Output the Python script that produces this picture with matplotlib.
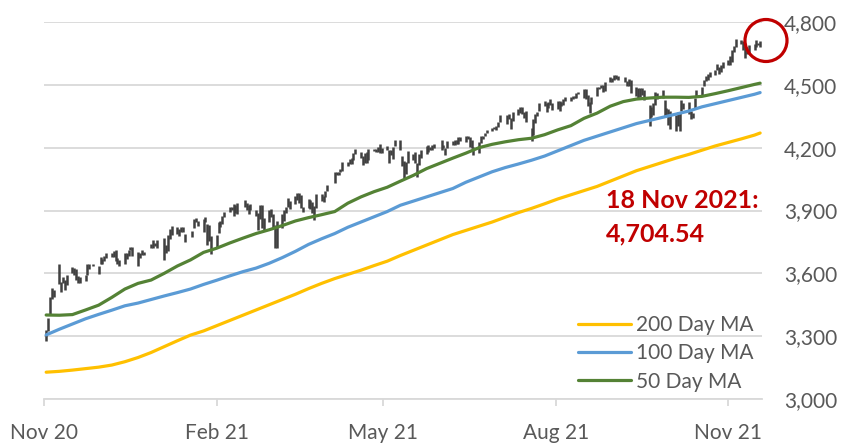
"""
S&P 500 daily range with 50/100/200 day moving averages, Nov 2020 - Nov 2021.
"""
import matplotlib
matplotlib.use("Agg")
import matplotlib.pyplot as plt
import matplotlib.dates as mdates
import matplotlib.patches as mpatches
from matplotlib.ticker import FuncFormatter, FixedLocator
import numpy as np
import pandas as pd

# daily lows / highs per month (trading days)
low_nov20 = [3279, 3324, 3405, 3477, 3487, 3547, 3511, 3553, 3519, 3543,
             3600, 3594, 3567, 3555, 3556, 3565, 3594, 3623, 3633, 3595]
high_nov20 = [3330, 3389, 3486, 3529, 3521, 3646, 3559, 3581, 3570, 3593,
              3628, 3624, 3619, 3586, 3582, 3590, 3643, 3643, 3645, 3637]
low_dec20 = [3645, 3645, 3658, 3673, 3679, 3678, 3660, 3645, 3633, 3646, 3667,
             3684, 3710, 3685, 3636, 3675, 3688, 3689, 3723, 3723, 3729, 3723]
high_dec20 = [3678, 3670, 3682, 3699, 3698, 3708, 3712, 3673, 3665, 3698, 3695,
              3711, 3725, 3726, 3703, 3698, 3712, 3703, 3740, 3757, 3744, 3760]
low_jan21 = [3663, 3698, 3705, 3764, 3784, 3790, 3777, 3796, 3795, 3750,
             3775, 3816, 3845, 3824, 3795, 3845, 3737, 3752, 3694]
high_jan21 = [3770, 3737, 3784, 3811, 3827, 3823, 3811, 3821, 3823, 3788,
              3804, 3860, 3862, 3852, 3860, 3871, 3836, 3830, 3779]
low_feb21 = [3726, 3792, 3819, 3837, 3871, 3892, 3901, 3876, 3890, 3884,
             3916, 3904, 3885, 3901, 3874, 3806, 3858, 3818, 3805]
high_feb21 = [3784, 3843, 3848, 3872, 3894, 3916, 3919, 3931, 3925, 3935,
              3951, 3934, 3927, 3931, 3903, 3890, 3928, 3925, 3862]
low_mar21 = [3843, 3869, 3818, 3723, 3722, 3818, 3848, 3888, 3915, 3906, 3933, 3950,
             3935, 3914, 3891, 3912, 3907, 3888, 3853, 3912, 3944, 3942, 3963]
high_mar21 = [3902, 3906, 3883, 3829, 3851, 3881, 3904, 3918, 3961, 3944, 3970, 3982,
              3982, 3972, 3918, 3956, 3949, 3942, 3920, 3979, 3981, 3968, 3995]
low_apr21 = [3994, 4029, 4068, 4068, 4082, 4089, 4114, 4124, 4122, 4143, 4170,
             4150, 4118, 4128, 4125, 4139, 4183, 4181, 4178, 4174, 4173]
high_apr21 = [4021, 4084, 4086, 4083, 4098, 4130, 4131, 4148, 4151, 4173, 4192,
              4181, 4160, 4175, 4179, 4195, 4194, 4194, 4201, 4218, 4199]
low_may21 = [4188, 4128, 4164, 4144, 4209, 4188, 4112, 4056, 4074, 4129,
             4142, 4126, 4062, 4119, 4150, 4170, 4180, 4190, 4191, 4200]
high_may21 = [4209, 4187, 4187, 4203, 4238, 4236, 4162, 4134, 4131, 4183,
              4172, 4179, 4125, 4172, 4188, 4209, 4213, 4203, 4213, 4218]
low_jun21 = [4188, 4198, 4167, 4199, 4215, 4211, 4218, 4218, 4233, 4229, 4241,
             4203, 4198, 4164, 4173, 4220, 4241, 4255, 4271, 4280, 4287, 4286]
high_jun21 = [4235, 4215, 4198, 4234, 4233, 4237, 4237, 4249, 4249, 4255, 4258,
              4252, 4237, 4204, 4226, 4256, 4256, 4271, 4286, 4293, 4300, 4302]
low_jul21 = [4301, 4322, 4314, 4339, 4289, 4329, 4358, 4364, 4362, 4340, 4321,
             4234, 4260, 4320, 4352, 4375, 4397, 4372, 4389, 4406, 4379]
high_jul21 = [4321, 4356, 4357, 4361, 4344, 4372, 4386, 4394, 4394, 4370, 4376,
              4294, 4337, 4359, 4369, 4415, 4422, 4415, 4416, 4430, 4412]
low_aug21 = [4385, 4373, 4400, 4405, 4423, 4425, 4434, 4438, 4437, 4458, 4436,
             4432, 4400, 4367, 4408, 4449, 4482, 4486, 4468, 4472, 4514, 4515]
high_aug21 = [4422, 4424, 4416, 4430, 4441, 4441, 4445, 4449, 4461, 4468, 4480,
              4479, 4453, 4418, 4444, 4490, 4492, 4501, 4498, 4513, 4537, 4531]
low_sep21 = [4522, 4530, 4522, 4513, 4493, 4493, 4459, 4447, 4438, 4444, 4450,
             4427, 4305, 4347, 4354, 4405, 4430, 4436, 4346, 4351, 4307]
high_sep21 = [4546, 4545, 4540, 4536, 4520, 4529, 4521, 4492, 4485, 4484, 4486,
              4477, 4403, 4394, 4412, 4465, 4463, 4475, 4429, 4389, 4383]
low_oct21 = [4288, 4279, 4302, 4278, 4376, 4386, 4360, 4338, 4340, 4385, 4447,
             4447, 4493, 4518, 4521, 4537, 4547, 4573, 4551, 4562, 4582]
high_oct21 = [4375, 4355, 4369, 4365, 4429, 4412, 4416, 4375, 4366, 4439, 4475,
              4488, 4521, 4540, 4551, 4559, 4572, 4598, 4585, 4597, 4608]
low_nov21 = [4595, 4595, 4608, 4658, 4681, 4694, 4665, 4630, 4649, 4653,
             4664, 4681, 4688, 4681]
high_nov21 = [4620, 4636, 4664, 4684, 4718, 4714, 4708, 4685, 4662, 4688,
              4697, 4714, 4701, 4708]

market_holidays = ["2020-11-26", "2020-12-25", "2021-01-01", "2021-01-18",
                   "2021-02-15", "2021-04-02", "2021-05-31", "2021-07-05",
                   "2021-09-06"]

# moving averages, read weekly (Mondays from 2 Nov 2020) plus the last day
ma_200 = [3128, 3132, 3138, 3145, 3152, 3162, 3178, 3198, 3222, 3250, 3278,
          3305, 3325, 3350, 3375, 3400, 3425, 3450, 3475, 3500, 3527, 3552,
          3575, 3595, 3615, 3637, 3658, 3685, 3710, 3735, 3760, 3785, 3805,
          3825, 3845, 3868, 3890, 3910, 3932, 3955, 3975, 3995, 4015, 4040,
          4065, 4090, 4110, 4130, 4150, 4168, 4188, 4208, 4225, 4242, 4260,
          4270]
ma_100 = [3306, 3333, 3358, 3383, 3404, 3424, 3445, 3458, 3475, 3492, 3508,
          3525, 3547, 3567, 3588, 3608, 3625, 3648, 3675, 3705, 3738, 3765,
          3790, 3820, 3845, 3870, 3895, 3925, 3945, 3965, 3985, 4005, 4035,
          4060, 4085, 4105, 4122, 4140, 4160, 4185, 4210, 4235, 4255, 4275,
          4295, 4315, 4330, 4345, 4360, 4375, 4395, 4410, 4425, 4440, 4455,
          4463]
ma_50 = [3401, 3400, 3403, 3425, 3448, 3485, 3525, 3552, 3568, 3600, 3635,
         3664, 3700, 3720, 3745, 3768, 3790, 3808, 3828, 3850, 3866, 3880,
         3895, 3935, 3965, 3990, 4011, 4040, 4068, 4100, 4125, 4150, 4174,
         4200, 4216, 4228, 4238, 4245, 4262, 4285, 4305, 4340, 4365, 4398,
         4420, 4432, 4437, 4441, 4441, 4440, 4445, 4458, 4472, 4487, 4502,
         4508]

ma_labels = ["200 Day MA", "100 Day MA", "50 Day MA"]
ma_colors = ["#FFC000", "#5B9BD5", "#548235"]
tick_dates = ["2020-11-01", "2021-02-01", "2021-05-01", "2021-08-01",
              "2021-11-01"]
tick_labels = ["Nov 20", "Feb 21", "May 21", "Aug 21", "Nov 21"]
last_note = "18 Nov 2021:\n4,704.54"

lows = (low_nov20 + low_dec20 + low_jan21 + low_feb21 + low_mar21 + low_apr21
        + low_may21 + low_jun21 + low_jul21 + low_aug21 + low_sep21
        + low_oct21 + low_nov21)
highs = (high_nov20 + high_dec20 + high_jan21 + high_feb21 + high_mar21
         + high_apr21 + high_may21 + high_jun21 + high_jul21 + high_aug21
         + high_sep21 + high_oct21 + high_nov21)

days = pd.bdate_range("2020-11-02", "2021-11-18")
days = days[~days.isin(pd.to_datetime(market_holidays))]
assert len(days) == len(lows) == len(highs)

ma_dates = pd.date_range("2020-11-02", periods=55, freq="7D").append(
    pd.DatetimeIndex(["2021-11-18"]))

plt.rcParams['font.family'] = ['Lato', 'DejaVu Sans']

W, H = 857, 444
fig = plt.figure(figsize=(W / 100, H / 100), dpi=100)
ax = fig.add_axes([44.3 / W, 1 - 399 / H, (762 - 44.3) / W, (399 - 22) / H])

grey_txt = '#595959'
grid_col = '#D9D9D9'

ax.vlines(days, lows, highs, color='#404040', linewidth=1.8, zorder=3)

for vals, lbl, col in zip([ma_200, ma_100, ma_50], ma_labels, ma_colors):
    ax.plot(ma_dates, vals, color=col, linewidth=2.3, label=lbl, zorder=4,
            solid_capstyle='round')

ax.set_ylim(3000, 4800)
ax.set_xlim(pd.Timestamp("2020-11-01"), pd.Timestamp("2021-11-19"))
ax.set_yticks(np.arange(3000, 4801, 300))
ax.yaxis.set_major_formatter(FuncFormatter(lambda v, _: f"{v:,.0f}"))
ax.yaxis.tick_right()
ax.tick_params(axis='y', length=0, pad=16, labelsize=15, labelcolor=grey_txt)
ax.grid(axis='y', color=grid_col, linewidth=1.3, zorder=0)

ax.xaxis.set_major_locator(FixedLocator(mdates.date2num(pd.to_datetime(tick_dates))))
ax.set_xticklabels(tick_labels)
ax.tick_params(axis='x', length=5, width=1.3, color=grid_col, pad=12,
               labelsize=15, labelcolor=grey_txt)

for side in ['top', 'left', 'right']:
    ax.spines[side].set_visible(False)
ax.spines['bottom'].set_color(grid_col)
ax.spines['bottom'].set_linewidth(1.3)

leg = ax.legend(loc='upper left', bbox_to_anchor=(578 / W, 1 - 315 / H),
                bbox_transform=fig.transFigure, frameon=False, fontsize=15,
                handlelength=2.55, handletextpad=0.25, labelspacing=0.4,
                borderpad=0, borderaxespad=0)
for txt in leg.get_texts():
    txt.set_color(grey_txt)
for line in leg.get_lines():
    line.set_linewidth(2.3)

fig.text(606 / W, 1 - 189 / H, last_note, ha='left', va='top',
         fontsize=18, fontweight='bold', color='#C00000', linespacing=1.55)

fig.patches.append(mpatches.Ellipse((766 / W, 1 - 40.5 / H), 42 / W, 42 / H,
                                    transform=fig.transFigure, fill=False,
                                    edgecolor='#C00000', linewidth=2.3))

fig.savefig('out.png', dpi=100)
